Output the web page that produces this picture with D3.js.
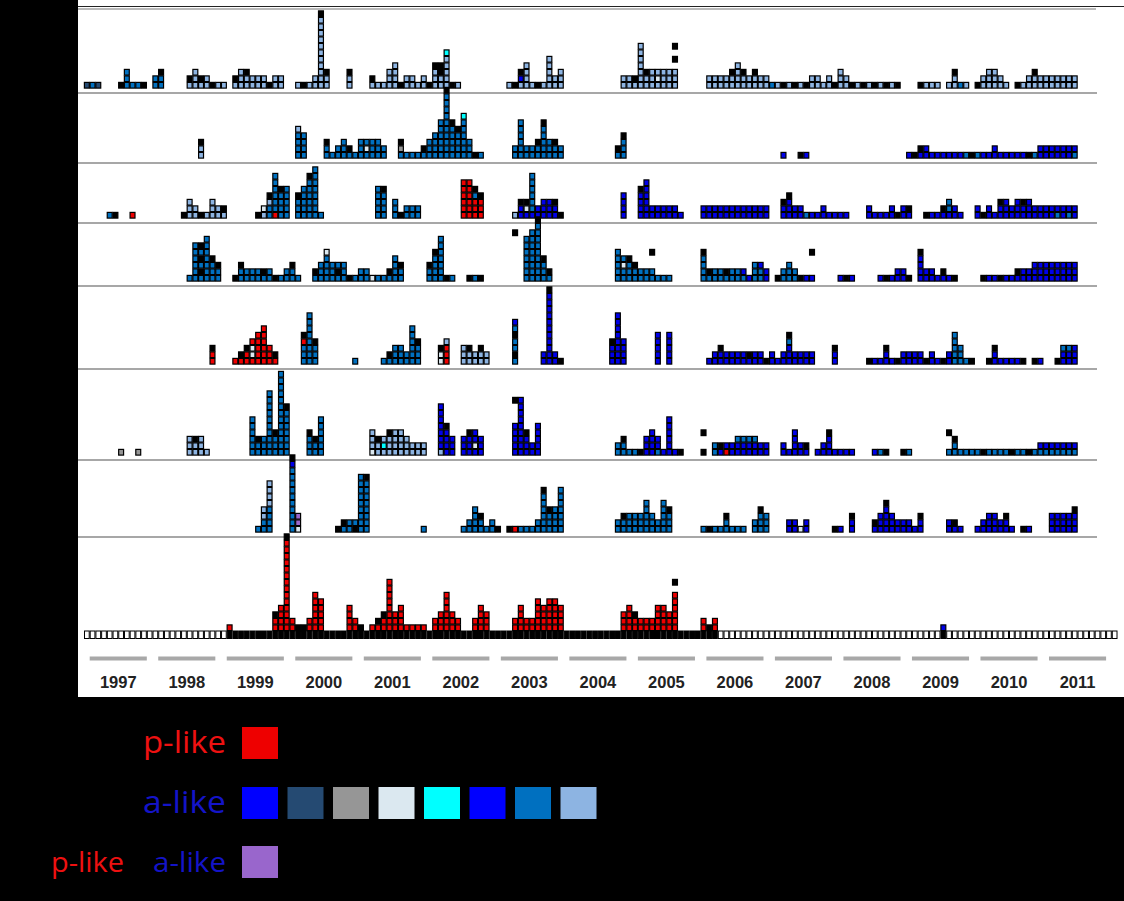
<!DOCTYPE html>
<html><head><meta charset="utf-8">
<script src="https://cdn.jsdelivr.net/npm/d3@7"></script>
<style>html,body{margin:0;padding:0;background:#000;}svg{display:block;}</style>
</head><body>
<script>
// ---------------- DATA ----------------
const years = ["1997","1998","1999","2000","2001","2002","2003","2004","2005","2006","2007","2008","2009","2010","2011"];
// cell colour codes: R p-like red, B blue, N navy, G gray, W pale, C cyan, S steel blue, L light blue, P mixed (purple), K black
const colorCodes = ["R","B","N","G","W","C","S","L","P","K"];
const colorValues = ["#ee0000","#0000e8","#254a72","#969696","#dbe8f0","#00ffff","#0070c0","#8db4e2","#9966cc","#000000"];
// each row: [month index since Jan 1997, stack of cells bottom->top, ' ' = empty]
const row1 = [[0,"N"],[1,"S"],[2,"N"],[6,"K"],[7,"SSS"],[8,"S"],[9,"S"],[10,"K"],[12,"SS"],[13,"SSK"],
 [18,"LK"],[19,"LLL"],[20,"LK"],[21,"LL"],[22,"K"],[23,"L"],[24,"L"],
 [26,"LK"],[27,"LLL"],[28,"LLK"],[29,"LL"],[30,"LL"],[31,"LL"],[32,"K"],[33,"LL"],[34,"LL"],
 [37,"L"],[38,"K"],[39,"L"],[40,"LL"],[41,"LLLLLLLLLLLK"],[42,"LLK"],[46,"LLK"],
 [50,"LK"],[51,"L"],[52,"L"],[53,"LLL"],[54,"LLLL"],[55,"K"],[56,"LL"],[57,"LL"],[58,"L"],[59,"LL"],[60,"K"],[61,"LLLK"],[62,"LLKK"],[63,"LLLLLC"],[64,"K"],[65,"L"],
 [74,"L"],[75,"K"],[76,"LBK"],[77,"LLLL"],[78,"L"],[79,"K"],[80,"L"],[81,"LLLLL"],[82,"LL"],[83,"LLL"],
 [94,"LL"],[95,"LL"],[96,"LK"],[97,"LLLLLLL"],[98,"LLK"],[99,"LLL"],[100,"LWL"],[101,"LLL"],[102,"LLL"],[103,"LLL K K"],
 [109,"LL"],[110,"LL"],[111,"LL"],[112,"LL"],[113,"LLK"],[114,"LLLL"],[115,"LLK"],[116,"LL"],[117,"LLK"],[118,"LL"],
 [119,"LL"],[120,"S"],[121,"L"],[122,"K"],[123,"L"],[124,"K"],[125,"L"],[126,"K"],[127,"LL"],[128,"LL"],[129,"L"],[130,"LL"],[131,"K"],[132,"LLL"],[133,"LL"],[134,"K"],[135,"L"],[136,"K"],[137,"L"],[138,"K"],[139,"L"],[140,"K"],[141,"L"],[142,"K"],
 [146,"K"],[147,"L"],[148,"L"],[149,"L"],[151,"L"],[152,"LLK"],[153,"S"],[154,"L"],
 [156,"K"],[157,"LL"],[158,"LLL"],[159,"LLL"],[160,"LL"],[161,"L"],
 [163,"K"],[164,"L"],[165,"LL"],[166,"LLK"],[167,"LL"],[168,"LL"],[169,"LL"],[170,"LL"],[171,"LL"],[172,"LL"],[173,"LL"]];
const row2 = [[20,"LLK"],[37,"SSSSL"],[38,"SSSS"],
 [42,"SSK"],[43,"S"],[44,"SS"],[45,"SSS"],[46,"SK"],[47,"S"],[48,"SSS"],[49,"SWS"],[50,"SSS"],[51,"SSS"],[52,"SS"],
 [55,"SGK"],[56,"S"],[57,"S"],[58,"S"],[59,"SK"],[60,"SSS"],[61,"SSSS"],[62,"SSSSSS"],[63,"SSSSSSSSSSK"],[64,"SSSSSK"],[65,"SSSSK"],[66,"SSSSSSC"],[67,"SSS"],[68,"K"],[69,"S"],
 [75,"SS"],[76,"SSSSSS"],[77,"SS"],[78,"SS"],[79,"SSK"],[80,"SSSSSK"],[81,"SSS"],[82,"SSK"],[83,"SS"],
 [93,"SK"],[94,"SSSK"],[122,"B"],[125,"K"],[126,"B"],
 [144,"B"],[145,"K"],[146,"BK"],[147,"BB"],[148,"B"],[149,"B"],[150,"B"],[151,"B"],[152,"B"],[153,"B"],[154,"S"],[155,"K"],[156,"S"],[157,"B"],[158,"B"],[159,"BB"],[160,"B"],[161,"B"],[162,"B"],[163,"B"],[164,"B"],[165,"K"],[166,"S"],
 [167,"BB"],[168,"BB"],[169,"BB"],[170,"BB"],[171,"BB"],[172,"BB"],[173,"SB"]];
const row3 = [[4,"S"],[5,"K"],[8,"R"],
 [17,"K"],[18,"LLL"],[19,"LL"],[20,"K"],[21,"L"],[22,"LLL"],[23,"LL"],[24,"LK"],
 [30,"K"],[31,"LW"],[32,"SSLK"],[33,"RSSSSSS"],[34,"SSSSK"],[35,"SSSSS"],
 [37,"SSSK"],[38,"SSSSS"],[39,"SSSSSSK"],[40,"SSSSSSSS"],[41,"S"],
 [51,"SSSSS"],[52,"SSSSK"],[54,"SSS"],[55,"K"],[56,"SS"],[57,"SS"],[58,"SS"],
 [66,"RRRRRR"],[67,"RRRRRR"],[68,"RRRSK"],[69,"RRRK"],
 [75,"L"],[76,"BBK"],[77,"BWK"],[78,"BSSSSSS"],[79,"BB"],[80,"BBB"],[81,"BBB"],[82,"BBK"],[83,"K"],
 [94,"BBBB"],[97,"BBBBK"],[98,"BBBBBB"],[99,"BB"],[100,"BB"],[101,"BB"],[102,"BB"],[103,"BB"],[104,"B"],
 [108,"BB"],[109,"BB"],[110,"BB"],[111,"BB"],[112,"BB"],[113,"BB"],[114,"BB"],[115,"BB"],[116,"BB"],[117,"BB"],[118,"BB"],[119,"BB"],
 [122,"BBK"],[123,"BBBK"],[124,"BB"],[125,"BB"],[126,"S"],[127,"B"],[128,"B"],[129,"BB"],[130,"B"],[131,"B"],[132,"B"],[133,"B"],
 [137,"BB"],[138,"B"],[139,"B"],[140,"B"],[141,"BB"],[142,"K"],[143,"BB"],[144,"BK"],
 [147,"K"],[148,"B"],[149,"B"],[150,"BK"],[151,"BSS"],[152,"BB"],[153,"B"],
 [156,"BB"],[157,"K"],[158,"BB"],[159,"B"],[160,"BBK"],[161,"BBB"],[162,"BB"],[163,"BBB"],[164,"BBK"],[165,"BBB"],[166,"BB"],[167,"BB"],[168,"BB"],[169,"BB"],[170,"SB"],[171,"BB"],[172,"SB"],[173,"BB"]];
const row4 = [[18,"S"],[19,"SSSSSS"],[20,"SKSKSK"],[21,"SSSSSSS"],[22,"SSSK"],[23,"SSK"],
 [26,"K"],[27,"SSK"],[28,"SS"],[29,"SS"],[30,"SS"],[31,"SK"],[32,"SS"],[33,"K"],[34,"S"],[35,"SS"],[36,"SSK"],[37,"S"],
 [40,"SK"],[41,"SSS"],[42,"SSSSW"],[43,"SSS"],[44,"SKS"],[45,"SSS"],[46,"K"],[47,"S"],[48,"SS"],[49,"SS"],[50,"W"],[51,"S"],[52,"S"],[53,"SK"],[54,"SSSS"],[55,"SSK"],
 [60,"SSK"],[61,"SSSSK"],[62,"SSSSSSS"],[63,"K"],[64,"S"],[67,"K"],[68,"S"],[69,"K"],
 [75,"       K"],[77,"SSSSSSS"],[78,"SSSSSSSS"],[79,"SSSSSSSSSK"],[80,"SSSK"],[81,"SK"],
 [93,"SSSSS"],[94,"SSWS"],[95,"SSSK"],[96,"SSK"],[97,"SS"],[98,"SS"],[99,"SS  K"],[100,"S"],[101,"S"],[102,"S"],
 [108,"SSSSK"],[109,"SK"],[110,"SS"],[111,"SS"],[112,"SK"],[113,"SS"],[114,"SS"],[115,"SB"],[116,"B"],[117,"SSS"],[118,"SSB"],[119,"BB"],
 [121,"K"],[122,"SS"],[123,"SSS"],[124,"SS"],[125,"K"],[126,"B"],[127,"B   K"],
 [132,"B"],[133,"K"],[134,"B"],[139,"B"],[140,"K"],[141,"B"],[142,"BB"],[143,"BB"],[144,"K"],
 [146,"BBBBK"],[147,"BB"],[148,"BB"],[149,"B"],[150,"BK"],[151,"B"],[152,"K"],
 [157,"K"],[158,"B"],[159,"B"],[160,"K"],[161,"B"],[162,"B"],[163,"BK"],[164,"BB"],[165,"BB"],[166,"BBB"],
 [167,"BBB"],[168,"BBB"],[169,"BBB"],[170,"BBB"],[171,"BBB"],[172,"BBB"],[173,"BBB"]];
const row5 = [[22,"RRK"],
 [26,"R"],[27,"RK"],[28,"RRK"],[29,"RWWR"],[30,"RRRRR"],[31,"RRRRRR"],[32,"RRR"],[33,"RK"],
 [38,"SSSRK"],[39,"SSSSSSSS"],[40,"SSSK"],[47,"S"],
 [52,"S"],[53,"SK"],[54,"SSS"],[55,"SSS"],[56,"SS"],[57,"SSSSSS"],[58,"SSSK"],
 [62,"WWK"],[63,"RRRL"],[66,"LLL"],[67,"LLK"],[68,"LL"],[69,"LLK"],[70,"LL"],
 [75,"SKSSKSB"],[80,"BB"],[81,"BBBBBBBBBBBK"],[82,"BB"],[83,"K"],
 [92,"BBBK"],[93,"BBBBBBBB"],[94,"BBBB"],[100,"BBBBB"],[102,"BBBBB"],
 [109,"B"],[110,"BB"],[111,"BBK"],[112,"BB"],[113,"BB"],[114,"BB"],[115,"BB"],[116,"BK"],[117,"BB"],[118,"BB"],[119,"K"],[120,"BB"],[121,"B"],[122,"BB"],[123,"BBBSK"],[124,"BB"],[125,"BB"],[126,"BB"],[127,"BB"],
 [131,"BBK"],
 [137,"K"],[138,"B"],[139,"B"],[140,"BBK"],[141,"B"],[142,"K"],[143,"BB"],[144,"BB"],[145,"BB"],[146,"BB"],[147,"K"],[148,"BB"],[149,"B"],[150,"K"],[151,"BB"],[152,"SSSSS"],[153,"SSS"],[154,"S"],[155,"K"],
 [158,"K"],[159,"BBK"],[160,"B"],[161,"B"],[162,"B"],[163,"B"],[164,"K"],[166,"K"],[167,"B"],
 [170,"K"],[171,"BBS"],[172,"BBS"],[173,"BBB"]];
const row6 = [[6,"G"],[9,"G"],[18,"LLL"],[19,"LLK"],[20,"LLL"],[21,"L"],
 [29,"SSSSSS"],[30,"SSK"],[31,"SSS"],[32,"SSSSSSSSSS"],[33,"SSSK"],[34,"SSSSSSSSSSSSS"],[35,"SSSSSSSK"],
 [39,"SSSK"],[40,"SSK"],[41,"SSSSSS"],
 [50,"WLLL"],[51,"LLK"],[52,"LCL"],[53,"LLLK"],[54,"LLLL"],[55,"LLLL"],[56,"LLL"],[57,"LL"],[58,"LL"],[59,"LL"],
 [62,"LBBBBBBB"],[63,"BBBBK"],[64,"BBB"],[66,"BBB"],[67,"BBBK"],[68,"BWBB"],[69,"BBB"],
 [75,"BBBBB   K"],[76,"BBBBBBBBB"],[77,"BBBK"],[78,"BB"],[79,"BBBBB"],
 [93,"SS"],[94,"SSK"],[95,"S"],[96,"S"],[97,"K"],[98,"BBB"],[99,"BBBB"],[100,"SBB"],[101,"B"],[102,"BBBBBB"],[103,"B"],[104,"K"],
 [108,"K  K"],[110,"SS"],[111,"BK"],[112,"RB"],[113,"BB"],[114,"BBS"],[115,"BBS"],[116,"BBS"],[117,"BBS"],[118,"BB"],[119,"BB"],
 [122,"BB"],[123,"B"],[124,"BBBB"],[125,"BB"],[126,"BK"],
 [128,"B"],[129,"BB"],[130,"BBBK"],[131,"B"],[132,"B"],[133,"B"],[134,"B"],
 [138,"B"],[139,"S"],[140,"K"],[143,"K"],[144,"S"],
 [151,"S  K"],[152,"SSK"],[153,"S"],[154,"S"],[155,"S"],[156,"S"],[157,"K"],[158,"S"],[159,"S"],[160,"S"],[161,"S"],[162,"K"],[163,"S"],[164,"S"],[165,"K"],[166,"S"],
 [167,"SB"],[168,"SB"],[169,"SB"],[170,"SB"],[171,"SB"],[172,"SB"],[173,"SB"]];
const row7 = [[30,"S"],[31,"SSLL"],[32,"SSSSLLLL"],[36,"SSSSSSSSSSBK"],[37,"WPP"],
 [44,"K"],[45,"SK"],[46,"SS"],[47,"KS"],[48,"SSSSSSSSS"],[49,"SSSSSSSSK"],[59,"S"],
 [66,"S"],[67,"SS"],[68,"SSSS"],[69,"SSK"],[70,"S"],[71,"SS"],[72,"K"],
 [74,"K"],[75,"R"],[76,"S"],[77,"S"],[78,"S"],[79,"SS"],[80,"SSSSSSK"],[81,"SSSK"],[82,"SSSS"],[83,"SSSSSSS"],
 [93,"SS"],[94,"SSK"],[95,"SSS"],[96,"SSS"],[97,"SSS"],[98,"SSSSS"],[99,"SSS"],[100,"SS"],[101,"SSSSS"],[102,"SSSK"],
 [108,"S"],[109,"K"],[110,"S"],[111,"S"],[112,"SSK"],[113,"S"],[114,"S"],[115,"S"],[117,"SS"],[118,"SSSK"],[119,"SSS"],
 [123,"BB"],[124,"BB"],[125,"W"],[126,"BB"],[131,"K"],[132,"B"],[134,"BBK"],
 [138,"BK"],[139,"BBB"],[140,"BBBBK"],[141,"BBB"],[142,"BB"],[143,"BB"],[144,"BB"],[145,"B"],[146,"BBK"],
 [151,"BB"],[152,"BK"],[153,"B"],[156,"B"],[157,"BB"],[158,"BBB"],[159,"BBB"],[160,"BB"],[161,"BBK"],[162,"B"],[164,"K"],[165,"B"],
 [169,"BBB"],[170,"BBB"],[171,"BBB"],[172,"BBB"],[173,"BBBK"]];
const row8 = [[25,"R"],[33,"RRK"],[34,"RRRR"],[35,"RRRRRRRRRRRRRRK"],[36,"RR"],[37,"K"],
 [38,"K"],[39,"RR"],[40,"RRRRRR"],[41,"RRRRR"],[46,"RRRR"],[47,"RR"],[48,"K"],
 [50,"R"],[51,"RK"],[52,"RRK"],[53,"RRRRRRRR"],[54,"RRR"],[55,"RRRR"],[56,"R"],[57,"R"],[58,"R"],[59,"R"],
 [61,"RR"],[62,"RRR"],[63,"RRRRRR"],[64,"RRR"],[65,"RR"],[68,"RR"],[69,"RRRR"],[70,"RRR"],
 [75,"RR"],[76,"RRRR"],[77,"RR"],[78,"RR"],[79,"RRRRR"],[80,"RRRR"],[81,"RRRRR"],[82,"RRRRR"],[83,"RRRR"],
 [94,"RRR"],[95,"RRRR"],[96,"RRK"],[97,"RR"],[98,"RR"],[99,"RR"],[100,"RRRR"],[101,"RRRR"],[102,"RRR"],[103,"RRRRRR K"],
 [108,"RR"],[109,"K"],[110,"RR"],[150,"B"]];
const timelineMonths = 181;
const timelineFilled = [[25,110],[150,150]];   // month ranges shown black on the time strip
const legendRows = [
  {labels:[["p-like","#ee1111"]], swatches:["R"]},
  {labels:[["a-like","#1414c8"]], swatches:["B","N","G","W","C","B","S","L"]},
  {labels:[["p-like","#ee1111"],["a-like","#1414c8"]], swatches:["P"]}
];

// ---------------- LAYOUT ----------------
const W = 1124, H = 901;
const svg = d3.select("body").append("svg").attr("width", W).attr("height", H);
svg.append("rect").attr("width", W).attr("height", H).attr("fill", "#000");
svg.append("rect").attr("x", 78).attr("y", 0).attr("width", W - 78).attr("height", 697).attr("fill", "#fff");

const x = d3.scaleLinear().domain([0, 180]).range([84, 1111.8]);
const cw = x(1) - x(0), ch = 6.5;
const color = d3.scaleOrdinal().domain(colorCodes).range(colorValues);

const sepLines = [93, 163, 223, 286, 369, 460, 537];
const rows = [row1, row2, row3, row4, row5, row6, row7, row8];
const bases = sepLines.map(v => v - 4.5).concat([631]);

svg.append("line").attr("x1", 78).attr("x2", W).attr("y1", 6.5).attr("y2", 6.5).attr("stroke", "#222").attr("stroke-width", 1.2);
svg.append("line").attr("x1", 78).attr("x2", 1096).attr("y1", 9).attr("y2", 9).attr("stroke", "#777").attr("stroke-width", 1.2);
svg.selectAll("line.sep").data(sepLines).join("line").attr("class", "sep")
  .attr("x1", 78).attr("x2", 1097).attr("y1", d => d).attr("y2", d => d)
  .attr("stroke", "#8a8a8a").attr("stroke-width", 1.5);

// timeline strip
const tl = d3.range(timelineMonths).map(m => ({m, on: timelineFilled.some(r => m >= r[0] && m <= r[1])}));
svg.append("g").selectAll("rect").data(tl).join("rect")
  .attr("x", d => x(d.m) + 0.5).attr("y", 631).attr("width", cw - 1).attr("height", 7.5)
  .attr("fill", d => d.on ? "#000" : "#fff").attr("stroke", "#000").attr("stroke-width", 1);

// cells
rows.forEach((row, ri) => {
  const cells = [];
  row.forEach(([m, s]) => {
    for (let i = 0; i < s.length; i++) if (s[i] !== " ") cells.push({m, i, c: s[i]});
  });
  svg.append("g").selectAll("rect").data(cells).join("rect")
    .attr("x", d => x(d.m) + 0.4).attr("y", d => bases[ri] - (d.i + 1) * ch + 0.4)
    .attr("width", cw - 0.8).attr("height", ch - 0.8)
    .attr("fill", d => color(d.c)).attr("stroke", "#000").attr("stroke-width", 1.2);
});

// year bars and labels
svg.append("g").selectAll("rect").data(years).join("rect")
  .attr("x", (d, i) => x(i * 12 + 1)).attr("y", 656.5).attr("width", x(10) - x(0)).attr("height", 4)
  .attr("fill", "#a8a8a8");
svg.append("g").selectAll("text").data(years).join("text")
  .attr("x", (d, i) => x(i * 12 + 6)).attr("y", 688).attr("text-anchor", "middle")
  .attr("font-family", "Liberation Sans, Arial, sans-serif").attr("font-weight", "bold").attr("font-size", 16.5)
  .attr("fill", "#222").text(d => d);

// legend
const legY = [743, 803, 862];
const legendColor = c => c === "B" ? "#0000ff" : color(c);
const addLabel = (g, txt, fill, right, len, y, size) =>
  g.append("text").attr("x", right - len).attr("y", y)
    .attr("textLength", len).attr("lengthAdjust", "spacingAndGlyphs")
    .attr("font-family", "Open Sans, sans-serif").attr("font-size", size).attr("fill", fill).text(txt);
legendRows.forEach((r, k) => {
  const g = svg.append("g");
  if (r.labels.length === 2) {
    addLabel(g, r.labels[0][0], r.labels[0][1], 124, 73, legY[k] + 10, 28);
    addLabel(g, r.labels[1][0], r.labels[1][1], 226, 73, legY[k] + 10, 28);
  } else {
    addLabel(g, r.labels[0][0], r.labels[0][1], 226, 83, legY[k] + 10, 31);
  }
  g.selectAll("rect").data(r.swatches).join("rect")
    .attr("x", (d, i) => 242 + i * 45.5).attr("y", legY[k] - 16).attr("width", 36).attr("height", 32)
    .attr("fill", d => legendColor(d));
});
</script>
</body></html>
